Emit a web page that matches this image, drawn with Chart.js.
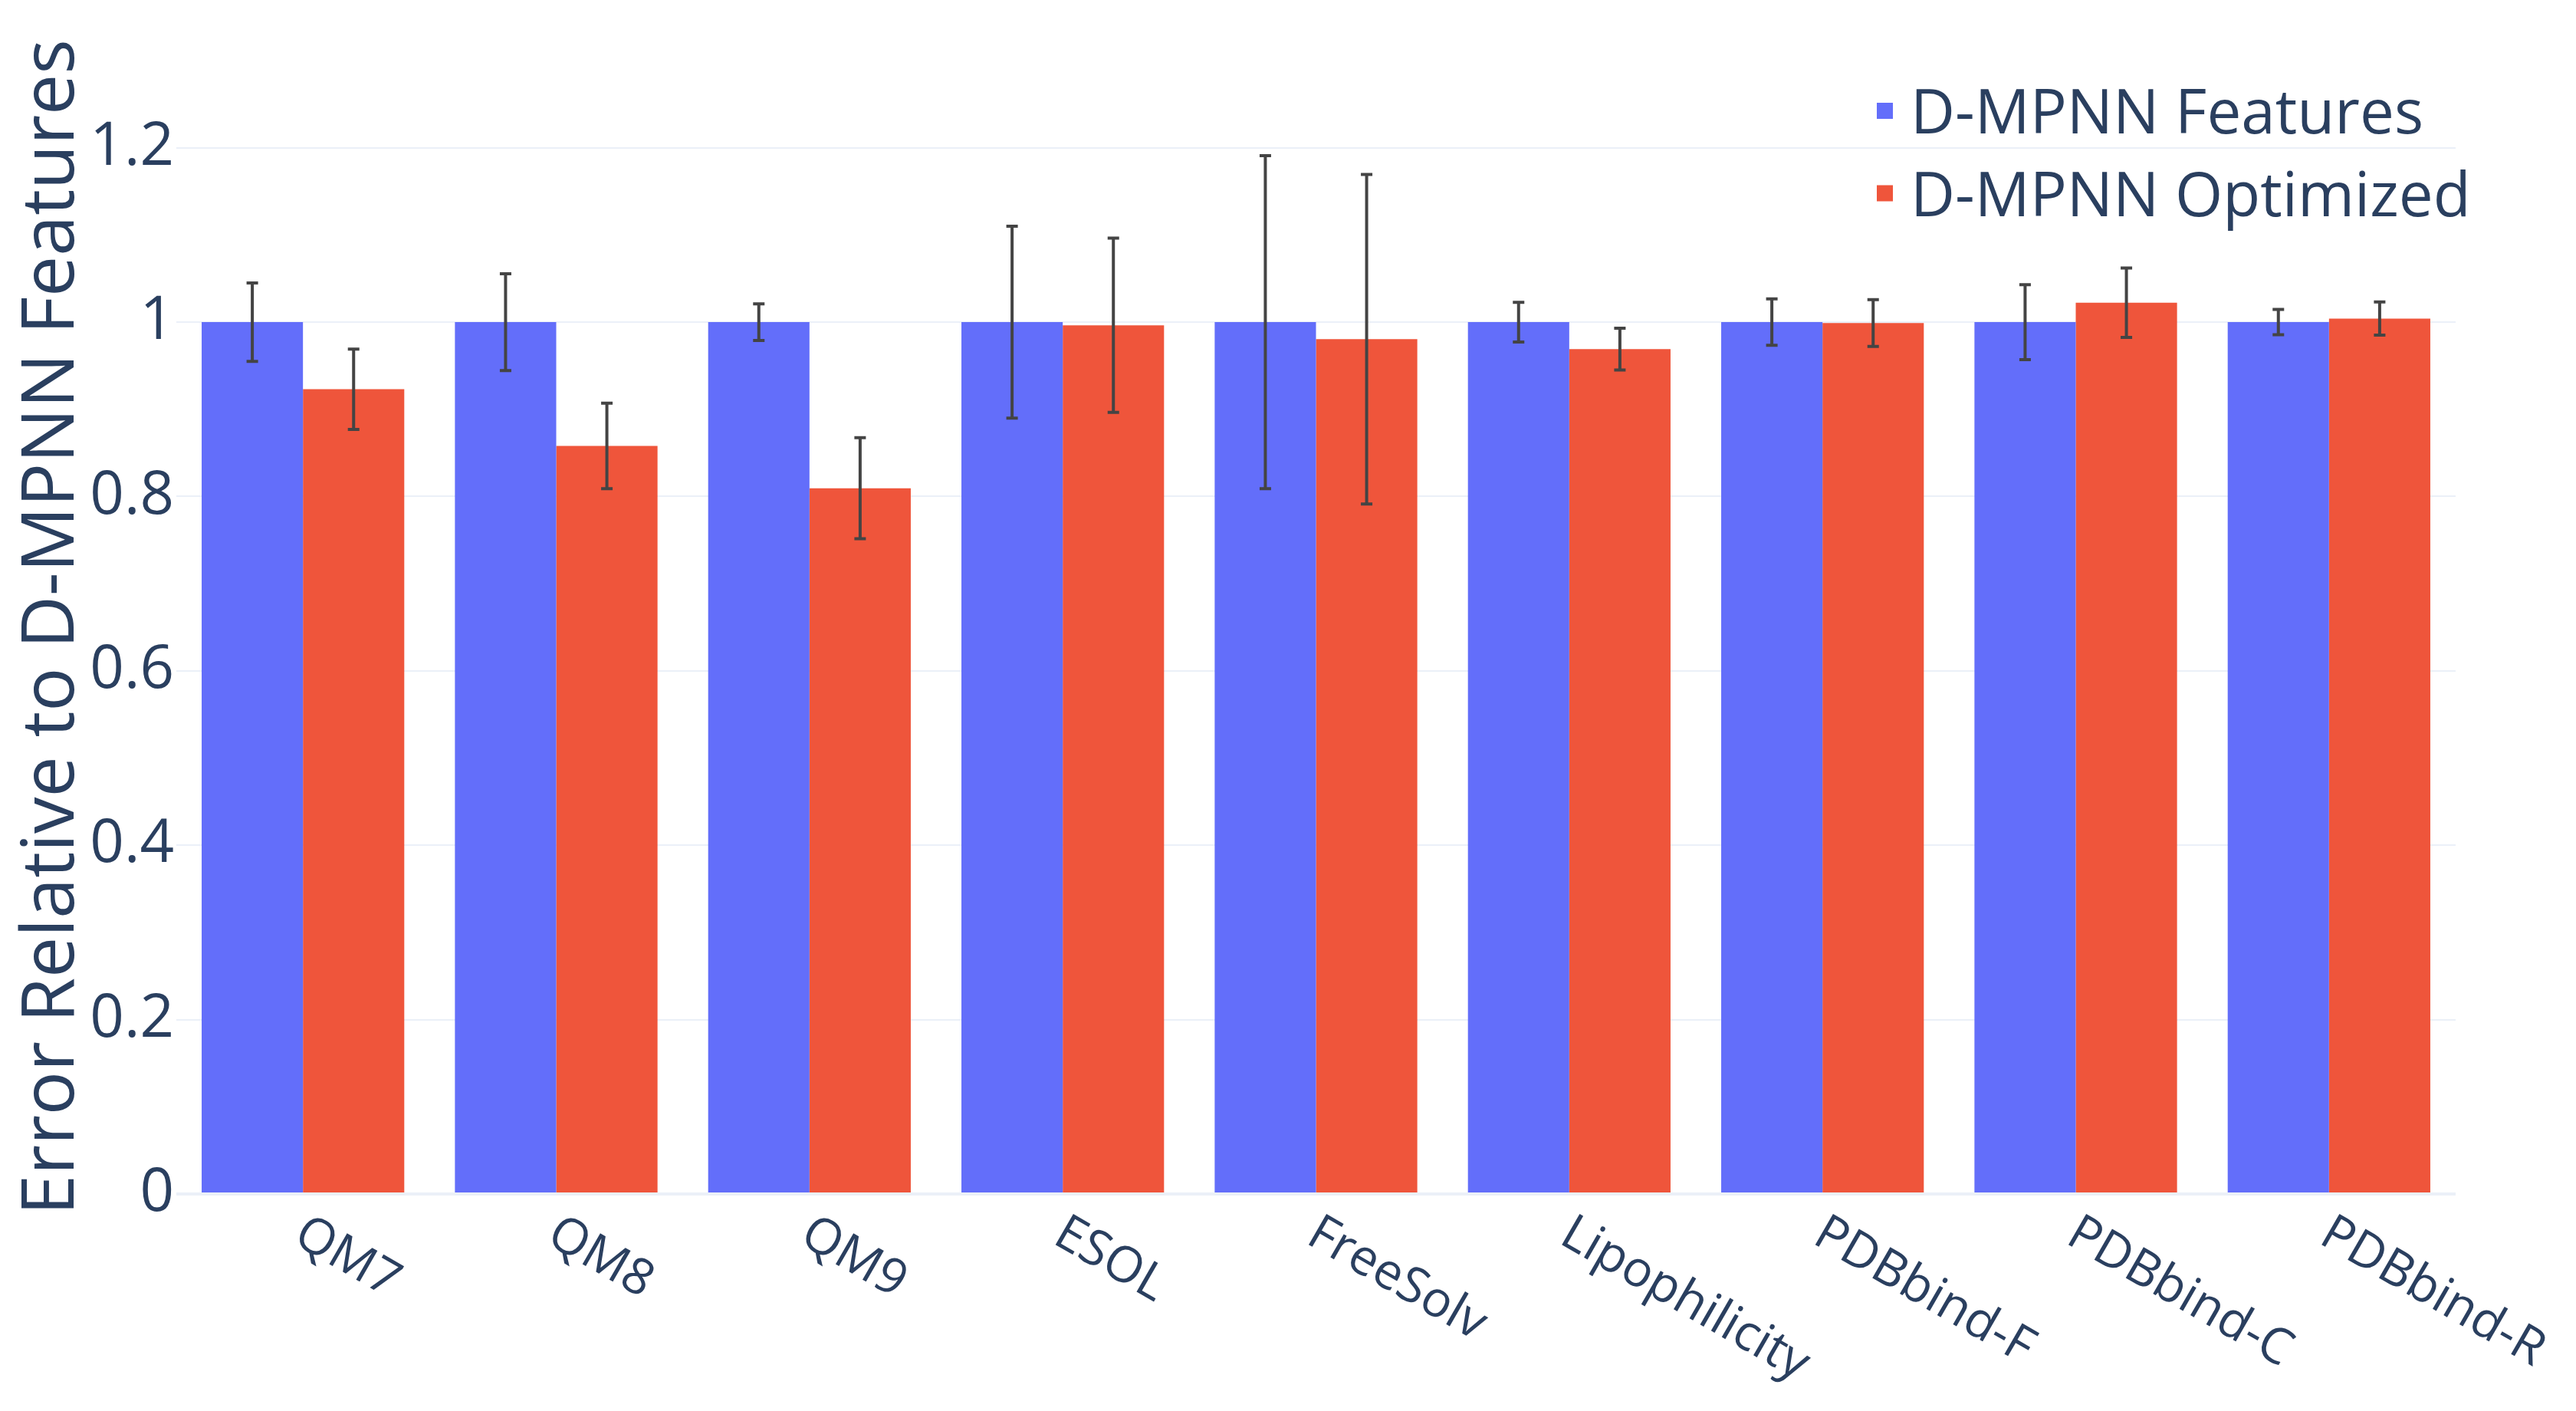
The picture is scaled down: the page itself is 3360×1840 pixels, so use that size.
<!DOCTYPE html>
<html>
<head>
<meta charset="utf-8">
<script src="https://cdn.jsdelivr.net/npm/chart.js@4.4.1/dist/chart.umd.min.js"></script>
<style>
  html, body { margin: 0; padding: 0; background: #fff; }
  canvas { display: block; }
</style>
</head>
<body>
<canvas id="chart" width="3360" height="1840"></canvas>
<script>
const datasetNames = ["QM7", "QM8", "QM9", "ESOL", "FreeSolv", "Lipophilicity", "PDBbind-F", "PDBbind-C", "PDBbind-R"];

const featuresValues = [1, 1, 1, 1, 1, 1, 1, 1, 1];
const featuresErrors = [0.045, 0.0555, 0.021, 0.11, 0.191, 0.0227, 0.0266, 0.043, 0.0145];

const optimizedValues = [0.923, 0.858, 0.8095, 0.9964, 0.9804, 0.969, 0.999, 1.0222, 1.0041];
const optimizedErrors = [0.046, 0.049, 0.058, 0.100, 0.189, 0.024, 0.0269, 0.0398, 0.019];

const yTickValues = [0, 0.2, 0.4, 0.6, 0.8, 1, 1.2];
const yTickLabels = ["0", "0.2", "0.4", "0.6", "0.8", "1", "1.2"];

const textColor = "#2a3f5f";
const gridColor = "#EBF0F8";
const fontFamily = '"Open Sans", verdana, arial, sans-serif';

Chart.defaults.font.family = fontFamily;
Chart.defaults.color = textColor;

// error bars on top of each bar
const errorBars = {
  id: "errorBars",
  afterDatasetsDraw(chart) {
    const ctx = chart.ctx;
    const yScale = chart.scales.y;
    ctx.save();
    ctx.strokeStyle = "#444";
    ctx.lineWidth = 4;
    chart.data.datasets.forEach((ds, di) => {
      const meta = chart.getDatasetMeta(di);
      meta.data.forEach((bar, i) => {
        const v = ds.data[i], e = ds.errors[i];
        const yTop = yScale.getPixelForValue(v + e);
        const yBot = yScale.getPixelForValue(v - e);
        ctx.beginPath();
        ctx.moveTo(bar.x, yTop);
        ctx.lineTo(bar.x, yBot);
        ctx.moveTo(bar.x - 7.5, yTop);
        ctx.lineTo(bar.x + 7.5, yTop);
        ctx.moveTo(bar.x - 7.5, yBot);
        ctx.lineTo(bar.x + 7.5, yBot);
        ctx.stroke();
      });
    });
    ctx.restore();
  }
};

// slanted category labels, starting at each tick and going down-right
const slantedLabels = {
  id: "slantedLabels",
  afterDraw(chart) {
    const ctx = chart.ctx;
    const xScale = chart.scales.x;
    const base = chart.chartArea.bottom + 63;
    ctx.save();
    ctx.fillStyle = textColor;
    ctx.font = "65px " + fontFamily;
    ctx.textAlign = "left";
    ctx.textBaseline = "alphabetic";
    datasetNames.forEach((name, i) => {
      const x = xScale.getPixelForValue(i) - 15;
      ctx.save();
      ctx.translate(x, base);
      ctx.rotate(Math.PI / 6);
      ctx.fillText(name, 0, 0);
      ctx.restore();
    });
    ctx.restore();
  }
};

// legend in the top right corner, over the plot
const cornerLegend = {
  id: "cornerLegend",
  afterDraw(chart) {
    const ctx = chart.ctx;
    ctx.save();
    ctx.font = "80px " + fontFamily;
    ctx.textAlign = "left";
    ctx.textBaseline = "alphabetic";
    chart.data.datasets.forEach((ds, i) => {
      const baseline = 174 + i * 107.5;
      ctx.fillStyle = ds.backgroundColor;
      ctx.fillRect(2448, baseline - 40, 21, 21);
      ctx.fillStyle = textColor;
      ctx.fillText(ds.label, 2492, baseline);
    });
    ctx.restore();
  }
};

new Chart(document.getElementById("chart"), {
  type: "bar",
  data: {
    labels: datasetNames,
    datasets: [
      {
        label: "D-MPNN Features",
        data: featuresValues,
        errors: featuresErrors,
        backgroundColor: "#636EFA",
        borderWidth: 0
      },
      {
        label: "D-MPNN Optimized",
        data: optimizedValues,
        errors: optimizedErrors,
        backgroundColor: "#EF553B",
        borderWidth: 0
      }
    ]
  },
  options: {
    responsive: false,
    devicePixelRatio: 1,
    animation: false,
    layout: { padding: { top: 79, right: 157, left: 0, bottom: 0 } },
    datasets: { bar: { categoryPercentage: 0.8, barPercentage: 1.0 } },
    plugins: {
      legend: { display: false },
      tooltip: { enabled: false }
    },
    scales: {
      x: {
        grid: { display: false },
        border: { display: false },
        ticks: { display: false },
        afterFit(scale) { scale.height = 283; }
      },
      y: {
        min: 0,
        max: 1.3,
        border: { display: false },
        grid: {
          color: gridColor,
          drawTicks: false,
          lineWidth: c => (c.tick && c.tick.value === 0 ? 4 : 2)
        },
        ticks: {
          padding: 3,
          font: { size: 78 },
          color: textColor,
          callback: (v, i) => yTickLabels[i]
        },
        afterBuildTicks(scale) {
          scale.ticks = yTickValues.map(v => ({ value: v }));
        },
        title: {
          display: true,
          text: "Error Relative to D-MPNN Features",
          color: textColor,
          font: { size: 95 },
          padding: { top: 12, bottom: 0 }
        },
        afterFit(scale) { scale.width = 230; }
      }
    }
  },
  plugins: [errorBars, slantedLabels, cornerLegend]
});
</script>
</body>
</html>
